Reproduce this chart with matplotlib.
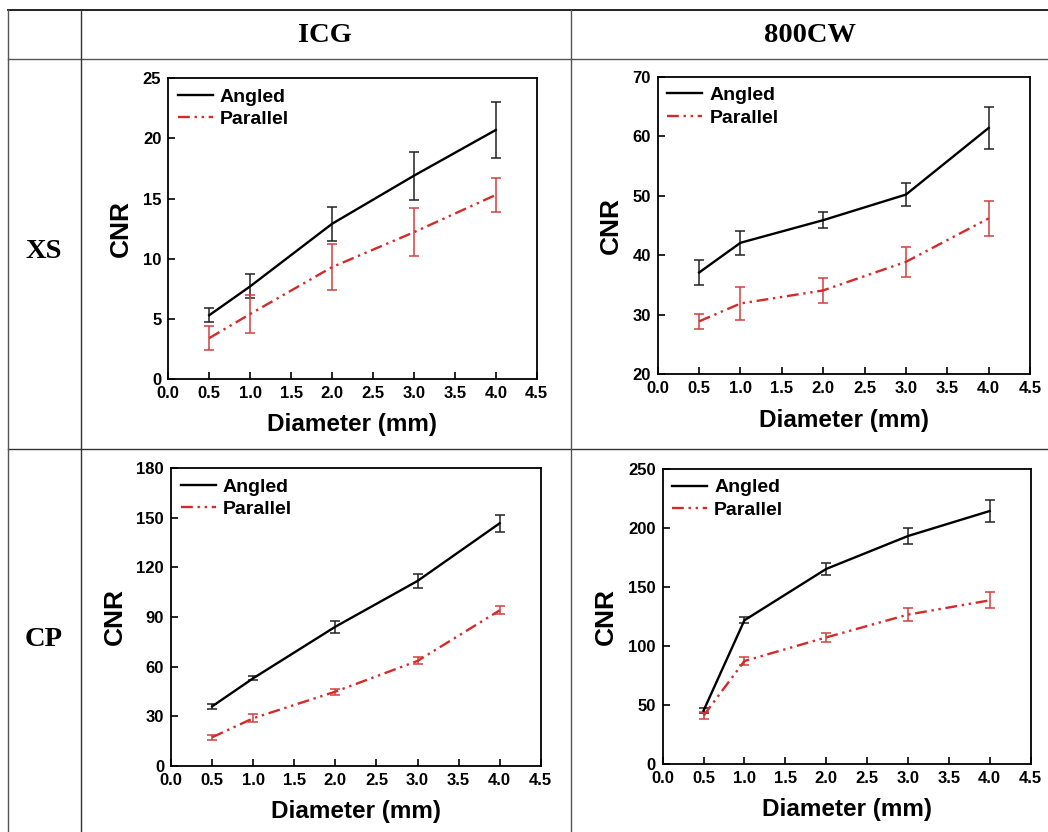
import matplotlib.pyplot as plt
from matplotlib.lines import Line2D

plt.rcParams['font.family'] = ['Liberation Sans', 'DejaVu Sans']
plt.rcParams['font.weight'] = 'bold'

RED = '#d42a2a'
RED_ERR = '#d04040'
DASH = (0, (5, 2, 1, 2, 1, 2))

diameter = [0.5, 1.0, 2.0, 3.0, 4.0]

# XS / ICG
xs_icg_angled = [5.3, 7.7, 12.9, 16.9, 20.7]
xs_icg_angled_err = [0.6, 1.0, 1.4, 2.0, 2.3]
xs_icg_parallel = [3.4, 5.4, 9.3, 12.2, 15.3]
xs_icg_parallel_err = [1.0, 1.55, 1.9, 2.0, 1.4]

# XS / 800CW
xs_cw_angled = [37.1, 42.1, 45.9, 50.2, 61.4]
xs_cw_angled_err = [2.1, 2.0, 1.35, 2.0, 3.5]
xs_cw_parallel = [28.9, 31.9, 34.1, 38.9, 46.2]
xs_cw_parallel_err = [1.3, 2.7, 2.05, 2.5, 2.95]

# CP / ICG
cp_icg_angled = [35.9, 52.9, 84.1, 111.8, 146.7]
cp_icg_angled_err = [1.4, 1.3, 3.6, 4.3, 5.0]
cp_icg_parallel = [17.2, 28.7, 44.8, 63.4, 94.0]
cp_icg_parallel_err = [1.5, 2.3, 1.9, 2.1, 2.5]

# CP / 800CW
cp_cw_angled = [45.2, 121.8, 165.3, 193.2, 214.4]
cp_cw_angled_err = [2.3, 2.5, 5.4, 6.5, 9.0]
cp_cw_parallel = [41.0, 87.3, 107.3, 126.6, 138.7]
cp_cw_parallel_err = [3.2, 3.0, 3.8, 5.3, 6.7]

panels = [
    # rect, angled, angled err, parallel, parallel err, ylim, yticks
    ([0.1606, 0.5445, 0.3515, 0.3614], xs_icg_angled, xs_icg_angled_err,
     xs_icg_parallel, xs_icg_parallel_err, (0, 25), [0, 5, 10, 15, 20, 25]),
    ([0.6276, 0.5501, 0.3553, 0.3577], xs_cw_angled, xs_cw_angled_err,
     xs_cw_parallel, xs_cw_parallel_err, (20, 70), [20, 30, 40, 50, 60, 70]),
    ([0.1632, 0.0797, 0.3528, 0.3575], cp_icg_angled, cp_icg_angled_err,
     cp_icg_parallel, cp_icg_parallel_err, (0, 180), [0, 30, 60, 90, 120, 150, 180]),
    ([0.6323, 0.0817, 0.3511, 0.3546], cp_cw_angled, cp_cw_angled_err,
     cp_cw_parallel, cp_cw_parallel_err, (0, 250), [0, 50, 100, 150, 200, 250]),
]

fig = plt.figure(figsize=(10.48, 8.32), dpi=100)

for rect, ang, ang_err, par, par_err, ylim, yticks in panels:
    ax = fig.add_axes(rect)
    ax.errorbar(diameter, ang, yerr=ang_err, color='black', lw=1.7,
                ecolor='#222222', elinewidth=1.1, capsize=3.5, capthick=1.1)
    ax.errorbar(diameter, par, yerr=par_err, color=RED, lw=1.7, ls=DASH,
                ecolor=RED_ERR, elinewidth=1.1, capsize=3.5, capthick=1.1)
    ax.set_xlim(0, 4.5)
    ax.set_ylim(*ylim)
    ax.set_xticks([0.0, 0.5, 1.0, 1.5, 2.0, 2.5, 3.0, 3.5, 4.0, 4.5])
    ax.set_xticklabels(['%.1f' % t for t in ax.get_xticks()])
    ax.set_yticks(yticks)
    ax.tick_params(direction='in', length=5, width=1.2, labelsize=12)
    ax.tick_params(axis='x', pad=5)
    ax.tick_params(axis='y', pad=5)
    for spine in ax.spines.values():
        spine.set_linewidth(1.3)
    ax.set_xlabel('Diameter (mm)', fontsize=17.5, fontweight='bold', labelpad=9)
    ax.set_ylabel('CNR', fontsize=19, fontweight='bold', labelpad=7)
    handles = [Line2D([], [], color='black', lw=1.7),
               Line2D([], [], color=RED, lw=1.7, ls=DASH)]
    ax.legend(handles, ['Angled', 'Parallel'], loc='upper left', frameon=False,
              fontsize=14, handlelength=1.8, handletextpad=0.35,
              labelspacing=0.25, borderaxespad=0.3, borderpad=0.2)


# table grid
def fig_line(x0, y0, x1, y1, lw=1.0, color='#333333'):
    W, H = 1048.0, 832.0
    fig.add_artist(Line2D([x0 / W, x1 / W], [1 - y0 / H, 1 - y1 / H],
                          transform=fig.transFigure, color=color, lw=lw))


fig_line(8, 10, 1048, 10, lw=1.3, color='#111111')
fig_line(8, 59, 1048, 59, lw=1.0, color='#555555')
fig_line(8, 448.7, 1048, 448.7, lw=1.0, color='#333333')
fig_line(8, 10, 8, 832, lw=1.0, color='#555555')
fig_line(80.5, 10, 80.5, 832, lw=1.0, color='#333333')
fig_line(570.7, 10, 570.7, 832, lw=1.0, color='#555555')

serif = ['Liberation Serif', 'DejaVu Serif']
for x, y, label in [(325, 35, 'ICG'), (810, 35, '800CW'),
                    (44, 252, 'XS'), (44, 640, 'CP')]:
    fig.text(x / 1048, 1 - y / 832, label, family=serif, fontsize=20.5,
             fontweight='bold', ha='center', va='center')

fig.savefig('out.png', dpi=100)
